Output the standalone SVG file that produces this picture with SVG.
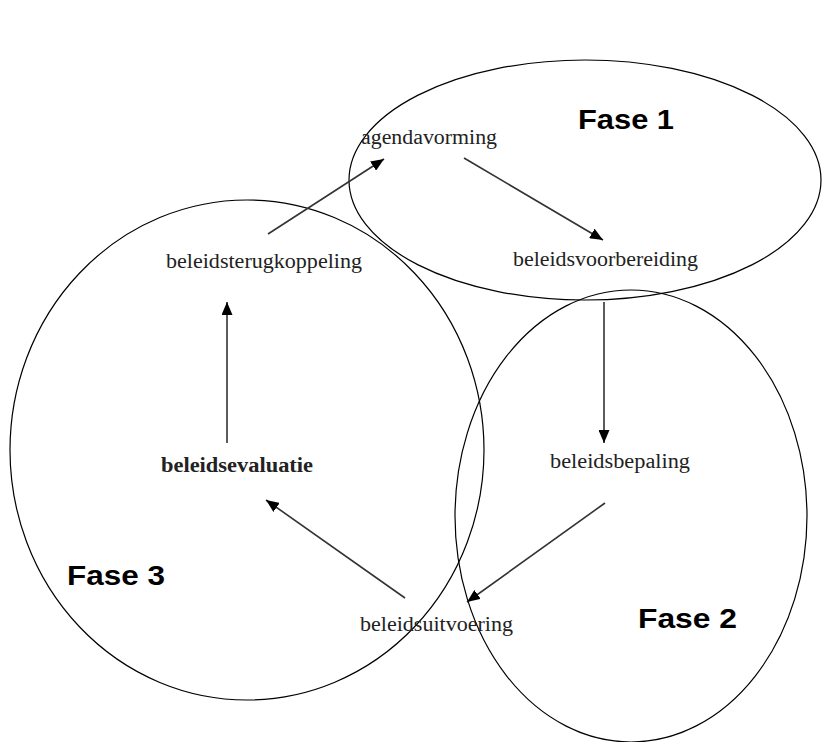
<svg xmlns="http://www.w3.org/2000/svg" width="822" height="742" viewBox="0 0 822 742">
  <style>
    .phase { fill: none; stroke: #000; stroke-width: 1.2; }
    .lbl { font-family: "Liberation Serif", "Times New Roman", serif; font-size: 20px; fill: #222; }
    .bold { font-weight: bold; }
    .fase { font-family: "Liberation Sans", Arial, sans-serif; font-size: 28px; font-weight: bold; fill: #000; }
    .edge { stroke: #333; stroke-width: 1.6; fill: none; marker-end: url(#arrow); }
  </style>
  <defs>
    <marker id="arrow" viewBox="0 0 13 11" refX="13" refY="5.5" markerWidth="13" markerHeight="11" markerUnits="userSpaceOnUse" orient="auto">
      <path d="M0,0 L13,5.5 L0,11 Z" fill="#000"/>
    </marker>
  </defs>

  <rect width="822" height="742" fill="#fff"/>

  <!-- phase regions -->
  <g id="fase1">
    <ellipse class="phase" cx="585" cy="180" rx="236" ry="120"/>
    <text class="fase" x="578" y="129" textLength="96" lengthAdjust="spacingAndGlyphs">Fase 1</text>
  </g>
  <g id="fase2">
    <ellipse class="phase" cx="631" cy="516" rx="176" ry="226"/>
    <text class="fase" x="638" y="628" textLength="99" lengthAdjust="spacingAndGlyphs">Fase 2</text>
  </g>
  <g id="fase3">
    <ellipse class="phase" cx="247" cy="450" rx="237" ry="250"/>
    <text class="fase" x="67" y="585" textLength="98" lengthAdjust="spacingAndGlyphs">Fase 3</text>
  </g>

  <!-- connectors -->
  <g id="connectors">
    <line class="edge" x1="268" y1="234" x2="384" y2="159"/>
    <line class="edge" x1="464" y1="158" x2="603" y2="240"/>
    <line class="edge" x1="604" y1="302" x2="604" y2="443"/>
    <line class="edge" x1="605" y1="503" x2="467" y2="602"/>
    <line class="edge" x1="405" y1="598" x2="266" y2="500"/>
    <line class="edge" x1="227" y1="443" x2="227" y2="302"/>
  </g>

  <!-- steps -->
  <g id="agendavorming">
    <text class="lbl" x="361" y="144" textLength="136" lengthAdjust="spacingAndGlyphs">agendavorming</text>
  </g>
  <g id="beleidsvoorbereiding">
    <text class="lbl" x="513" y="266" textLength="185" lengthAdjust="spacingAndGlyphs">beleidsvoorbereiding</text>
  </g>
  <g id="beleidsbepaling">
    <text class="lbl" x="550" y="468" textLength="140" lengthAdjust="spacingAndGlyphs">beleidsbepaling</text>
  </g>
  <g id="beleidsuitvoering">
    <text class="lbl" x="360" y="631" textLength="153" lengthAdjust="spacingAndGlyphs">beleidsuitvoering</text>
  </g>
  <g id="beleidsevaluatie">
    <text class="lbl bold" x="161" y="472" textLength="152" lengthAdjust="spacingAndGlyphs">beleidsevaluatie</text>
  </g>
  <g id="beleidsterugkoppeling">
    <text class="lbl" x="166" y="268" textLength="196" lengthAdjust="spacingAndGlyphs">beleidsterugkoppeling</text>
  </g>
</svg>
